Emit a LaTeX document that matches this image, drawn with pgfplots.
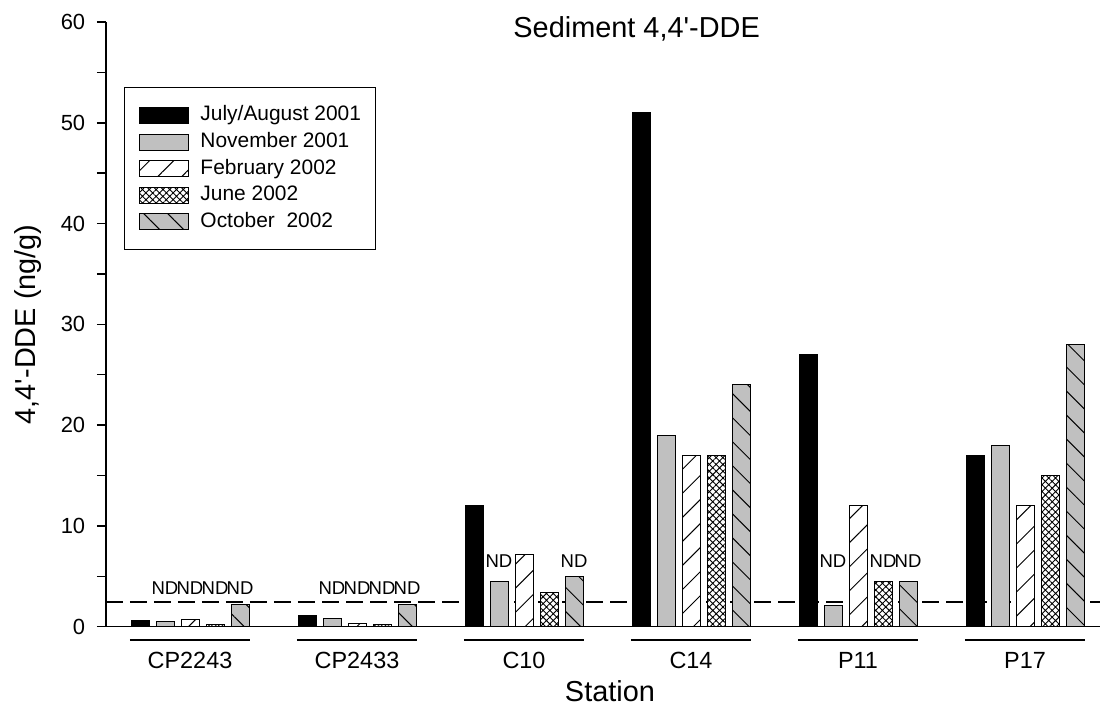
\documentclass[border=0pt]{standalone}
\usepackage{fontspec}
\setmainfont{Liberation Sans}
\usepackage{pgfplots}
\usepackage{pgfplotstable}
\pgfplotsset{compat=1.18}
\usetikzlibrary{patterns.meta}
\definecolor{barGray}{HTML}{C0C0C0}
\tikzset{nd/.style={anchor=base,inner sep=0pt,font=\fontsize{9.3}{10}\selectfont}}

% 4,4'-DDE in sediment (ng/g), one row per station
\pgfplotstableread{
x  jul   nov   feb   jun   oct
0  0.6   0.5   0.7   0.25  2.2
1  1.15  0.8   0.33  0.25  2.2
2  12    4.45  7.2   3.4   5.0
3  51    19    17    17    24
4  27    2.15  12    4.5   4.5
5  17    18    12    15    28
}\ddedata

\begin{document}
\begin{tikzpicture}
\begin{axis}[at={(0,0)},anchor=south west,scale only axis,width=497bp,height=302.35bp,
 xmin=-0.503,xmax=5.449,ymin=0,ymax=60,clip=false,
 axis x line*=bottom,axis y line*=left,axis line style={line width=0.75bp,-},
 xtick={0,...,5},xticklabels={CP2243,CP2433,C10,C14,P11,P17},x tick style={draw=none},
 xticklabel style={anchor=base,yshift=-16.15bp,font=\fontsize{11.75}{13}\selectfont},
 ytick={0,10,...,60},minor y tick num=1,tick align=outside,
 y tick style={line width=0.75bp,black},major tick length=4.5bp,minor tick length=4.5bp,
 yticklabel style={font=\fontsize{11}{13}\selectfont,xshift=-2.4bp},
 /pgf/number format/assume math mode=true,
 ylabel={4,4\textquotesingle-DDE (ng/g)},
 every axis y label/.style={at={(axis description cs:-0.0714,0.5)},rotate=90,anchor=base,font=\fontsize{14.5}{16}\selectfont},
 xlabel={Station},
 every axis x label/.style={at={(axis description cs:0.507,0)},anchor=base,yshift=-37.5bp,font=\fontsize{14.5}{16}\selectfont},
 legend image code/.code={\draw[#1] (0bp,-4bp) rectangle (24.5bp,4bp);\path (30bp,0bp);},
 legend style={at={(axis description cs:0.0181,0.8925)},anchor=north west,draw=black,line width=0.5bp,
  inner xsep=7.5bp,inner ysep=7.3bp,row sep=0bp,column sep=0bp,font=\fontsize{10.5}{12}\selectfont,
  nodes={inner xsep=0bp,inner ysep=1.4bp,text height=8bp,text depth=2.5bp}},
 legend cell align=left,
]
% detection limit line
\addplot[forget plot,sharp plot,no marks,line width=0.75bp,dash pattern=on 8.5bp off 3.5bp] coordinates {(-0.503,2.45) (5.449,2.45)};

\addplot[ybar,bar width=9bp,bar shift=-25bp,draw=black,line width=0.5bp,fill=black] table[x=x,y=jul]{\ddedata};
\addplot[ybar,bar width=9bp,bar shift=-12.5bp,draw=black,line width=0.5bp,fill=barGray] table[x=x,y=nov]{\ddedata};
\addplot[ybar,bar width=9bp,bar shift=0bp,draw=black,line width=0.5bp,fill=white,
 postaction={pattern={Lines[angle=45,distance=8.5bp,line width=0.5bp]}}] table[x=x,y=feb]{\ddedata};
\addplot[ybar,bar width=9bp,bar shift=12.5bp,draw=black,line width=0.5bp,fill=white,
 postaction={pattern={Hatch[angle=45,distance=2.4bp,line width=0.45bp]}}] table[x=x,y=jun]{\ddedata};
\addplot[ybar,bar width=9bp,bar shift=25bp,draw=black,line width=0.5bp,fill=barGray,
 postaction={pattern={Lines[angle=-45,distance=8.5bp,line width=0.5bp]}}] table[x=x,y=oct]{\ddedata};
\legend{July/August 2001,November 2001,February 2002,June 2002,October\ \ 2002}

% title
\node[anchor=base west,inner sep=0pt,font=\fontsize{14.5}{16}\selectfont] at (axis description cs:0.4095,0.975) {Sediment 4,4\textquotesingle-DDE};

% group underlines
\draw[line width=0.75bp] (axis cs:-0.36,-1.32) -- (axis cs:0.36,-1.32);
\draw[line width=0.75bp] (axis cs:0.64,-1.32) -- (axis cs:1.36,-1.32);
\draw[line width=0.75bp] (axis cs:1.64,-1.32) -- (axis cs:2.36,-1.32);
\draw[line width=0.75bp] (axis cs:2.64,-1.32) -- (axis cs:3.36,-1.32);
\draw[line width=0.75bp] (axis cs:3.64,-1.32) -- (axis cs:4.36,-1.32);
\draw[line width=0.75bp] (axis cs:4.64,-1.32) -- (axis cs:5.36,-1.32);

% non-detects
\node[nd] at (axis cs:-0.15,3.24) {ND};
\node[nd] at (axis cs:0,3.24) {ND};
\node[nd] at (axis cs:0.15,3.24) {ND};
\node[nd] at (axis cs:0.3,3.24) {ND};
\node[nd] at (axis cs:0.85,3.24) {ND};
\node[nd] at (axis cs:1,3.24) {ND};
\node[nd] at (axis cs:1.15,3.24) {ND};
\node[nd] at (axis cs:1.3,3.24) {ND};
\node[nd] at (axis cs:1.85,5.92) {ND};
\node[nd] at (axis cs:2.3,5.92) {ND};
\node[nd] at (axis cs:3.85,5.92) {ND};
\node[nd] at (axis cs:4.15,5.92) {ND};
\node[nd] at (axis cs:4.3,5.92) {ND};
\end{axis}
\pgfresetboundingbox
\path (-53bp,-46.15bp) rectangle (497.5bp,313.35bp);
\end{tikzpicture}
\end{document}
